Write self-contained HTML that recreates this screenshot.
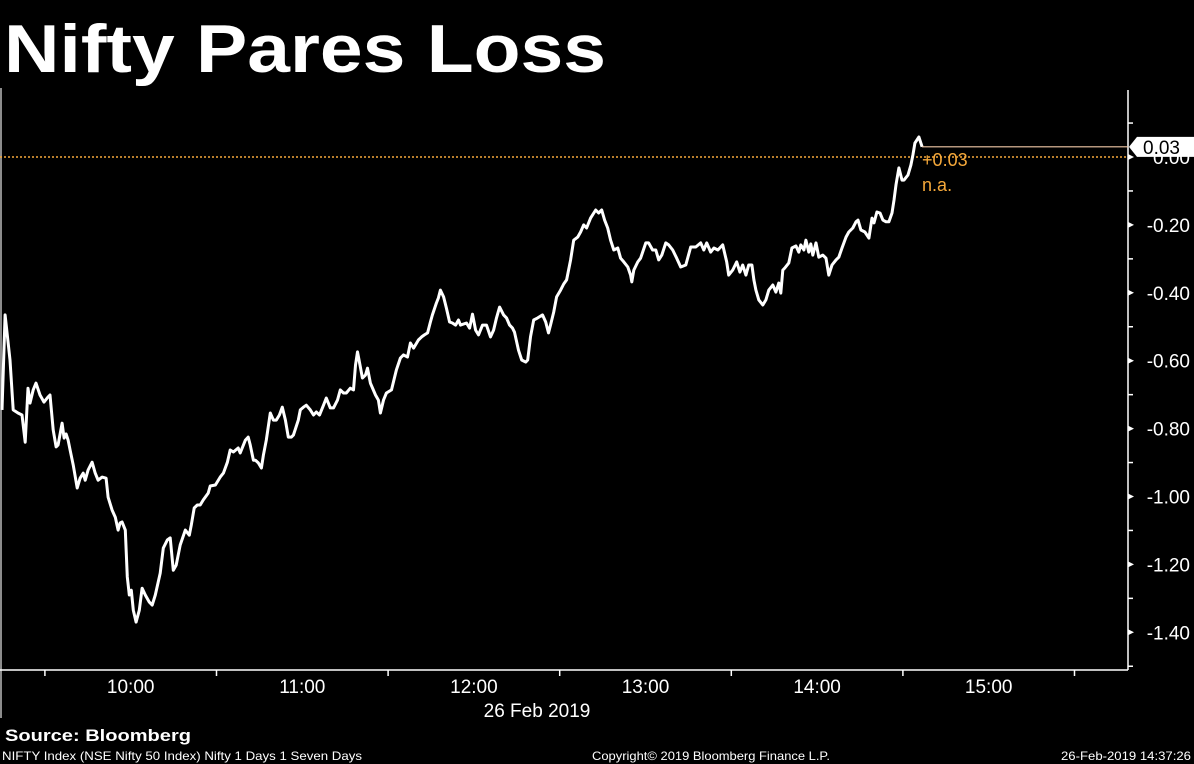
<!DOCTYPE html>
<html><head><meta charset="utf-8">
<style>
html,body{margin:0;padding:0;background:#000;}
svg{display:block;}
text{font-family:"Liberation Sans",sans-serif;}
</style></head>
<body>
<svg id="chart" width="1194" height="764" viewBox="0 0 1194 764" xmlns="http://www.w3.org/2000/svg">
<rect x="0" y="0" width="1194" height="764" fill="#000"/>
<text x="4" y="72" fill="#fff" font-size="68" font-weight="bold" textLength="602" lengthAdjust="spacingAndGlyphs">Nifty Pares Loss</text>
<line x1="1" y1="88" x2="1" y2="718" stroke="#bbb" stroke-width="1.5"/>
<line x1="0" y1="670" x2="1128" y2="670" stroke="#fff" stroke-width="1.5"/>
<line x1="1128" y1="90" x2="1128" y2="670" stroke="#fff" stroke-width="1.5"/>
<g id="yticks"></g>
<g id="xticks"></g>
<line id="zeroLine" x1="0" x2="1128" stroke="#f5a83a" stroke-width="1.5" stroke-dasharray="2,2"/>
<path id="series" fill="none" stroke="#fff" stroke-width="3" stroke-linejoin="round"/>
<g id="lastMarker"></g>
<text x="537" y="717" fill="#fff" font-size="19" text-anchor="middle">26 Feb 2019</text>
<text x="5" y="741" fill="#fff" font-size="17" font-weight="bold" textLength="186" lengthAdjust="spacingAndGlyphs">Source: Bloomberg</text>
<text x="2" y="760" fill="#fff" font-size="12" textLength="360" lengthAdjust="spacingAndGlyphs">NIFTY Index (NSE Nifty 50 Index) Nifty 1 Days 1 Seven Days</text>
<text x="592" y="760" fill="#fff" font-size="12" textLength="238" lengthAdjust="spacingAndGlyphs">Copyright© 2019 Bloomberg Finance L.P.</text>
<text x="1191" y="760" fill="#fff" font-size="12" text-anchor="end" textLength="130" lengthAdjust="spacingAndGlyphs">26-Feb-2019 14:37:26</text>
</svg>
<script>
// minutes since 09:15
var minutes = [0,1.1,2.8,3.9,5.6,7,8.1,9.1,9.8,10.9,11.9,13.3,14.7,16.1,16.8,17.9,18.9,19.6,21,21.7,22.4,23.1,23.8,24.9,26.3,27.3,28.4,29.1,30.1,31.5,32.6,33.6,35,36.4,37.1,38.5,39.6,40.6,41.3,42,43.1,43.8,44.5,45.2,45.9,46.9,48,49,50.1,51.5,52.5,53.6,55.3,56.4,57.8,58.8,59.9,60.9,62.3,64.1,65.5,66.2,67.2,68.3,69.3,70.4,72.1,72.8,74.6,76.3,77.4,78.8,79.8,80.9,82.6,
83.3,85.1,86.1,86.8,87.9,88.6,89.6,90.7,91.4,92.4,93.8,94.9,95.9,97,98,99.1,100.1,101.2,101.9,103.6,104.3,105.4,106.4,107.8,108.9,109.9,111,112.4,113.4,114.8,115.9,117.3,118.3,119.4,120.4,121.8,122.9,123.6,124.3,125.3,126,127.1,127.8,128.8,130.6,131.6,132.3,133.4,134.4,136.2,137.2,137.9,139.3,140.4,141.8,142.8,143.9,145.6,146.7,147.7,148.8,149.8,150.5,151.9,152.6,153.3,154.4,155.4,156.5,157.5,158.6,159.6,160.3,
162.4,163.5,164.5,165.6,166.6,168,169.4,170.8,171.9,172.9,174,175.4,176.4,177.5,178.5,179.2,180.6,181.7,183.1,183.8,184.8,185.9,187.3,189,190.1,191.1,191.8,192.9,193.9,195.3,196.4,197.4,198.8,199.9,201.3,202.3,203.4,204.4,205.8,207.6,208.6,209.7,210.7,211.8,212.8,213.9,215.3,216.3,217.4,218.8,219.8,220.2,220.9,222.3,223.3,225.1,226.1,227.5,228.6,229.6,230.7,232.1,233.1,234.5,235.9,237.3,239.1,240.8,242.6,244.3,
245.4,246.4,247.8,248.9,250.3,252,253.4,254.1,255.5,256.9,258,259,260.1,261.1,262.2,262.9,263.6,264.6,266,267.1,268.1,269.5,270.6,271.6,272.3,273,273.7,275.1,276.2,277.6,278.6,279.3,280.4,281.1,282.1,282.8,283.5,284.6,285.6,287,288.1,289.1,290.2,291.6,292.6,293.7,295.1,296.1,297.5,298.6,299.3,300.3,301.7,303.1,304.2,304.9,305.9,307,308,309.1,310.1,311.2,311.9,312.6,313.6,314.7,315.4,316.8,317.8,318.5,319.2,320.6,321.7];
var changePct = [-0.745,-0.465,-0.598,-0.745,-0.754,-0.760,-0.840,-0.681,-0.725,-0.686,-0.666,-0.701,-0.722,-0.707,-0.701,-0.804,-0.854,-0.848,-0.784,-0.828,-0.816,-0.834,-0.863,-0.907,-0.975,-0.946,-0.931,-0.952,-0.922,-0.899,-0.931,-0.952,-0.943,-0.946,-1.002,-1.040,-1.061,-1.099,-1.078,-1.075,-1.099,-1.237,-1.290,-1.276,-1.335,-1.370,-1.335,-1.270,-1.290,-1.311,-1.320,-1.290,-1.226,-1.152,-1.128,-1.122,-1.217,-1.202,-1.143,-1.099,-1.114,-1.084,-1.034,-1.025,-1.025,-1.010,-0.990,-0.969,-0.966,-0.943,-0.931,-0.899,-0.863,-0.869,-0.857,
-0.872,-0.834,-0.825,-0.848,-0.893,-0.893,-0.901,-0.916,-0.878,-0.834,-0.754,-0.775,-0.775,-0.760,-0.737,-0.775,-0.825,-0.825,-0.819,-0.775,-0.745,-0.737,-0.731,-0.745,-0.760,-0.751,-0.760,-0.731,-0.710,-0.739,-0.739,-0.716,-0.686,-0.695,-0.695,-0.681,-0.686,-0.613,-0.574,-0.619,-0.651,-0.642,-0.622,-0.666,-0.701,-0.716,-0.754,-0.716,-0.695,-0.686,-0.651,-0.627,-0.592,-0.583,-0.589,-0.548,-0.563,-0.539,-0.530,-0.524,-0.518,-0.486,-0.465,-0.430,-0.415,-0.392,-0.412,-0.445,-0.486,-0.489,-0.495,-0.480,-0.495,
-0.489,-0.504,-0.463,-0.510,-0.524,-0.495,-0.495,-0.530,-0.510,-0.474,-0.442,-0.465,-0.474,-0.495,-0.504,-0.516,-0.569,-0.598,-0.604,-0.598,-0.530,-0.480,-0.474,-0.465,-0.486,-0.518,-0.495,-0.457,-0.412,-0.392,-0.374,-0.362,-0.303,-0.245,-0.236,-0.221,-0.200,-0.209,-0.180,-0.156,-0.165,-0.156,-0.186,-0.209,-0.245,-0.274,-0.268,-0.298,-0.309,-0.324,-0.348,-0.368,-0.333,-0.309,-0.298,-0.253,-0.253,-0.274,-0.274,-0.303,-0.289,-0.253,-0.259,-0.274,-0.298,-0.324,-0.318,-0.265,-0.265,-0.253,
-0.274,-0.253,-0.280,-0.268,-0.274,-0.259,-0.309,-0.348,-0.333,-0.309,-0.339,-0.318,-0.348,-0.318,-0.318,-0.362,-0.392,-0.421,-0.436,-0.421,-0.392,-0.377,-0.398,-0.371,-0.401,-0.333,-0.327,-0.312,-0.268,-0.262,-0.280,-0.259,-0.274,-0.245,-0.280,-0.256,-0.289,-0.253,-0.295,-0.289,-0.298,-0.348,-0.318,-0.303,-0.295,-0.268,-0.236,-0.221,-0.209,-0.191,-0.186,-0.215,-0.221,-0.239,-0.180,-0.194,-0.162,-0.165,-0.186,-0.191,-0.191,-0.165,-0.127,-0.082,-0.032,-0.068,-0.068,-0.053,-0.024,0.006,0.041,0.059,0.030];
var yTickValues = [0,-0.2,-0.4,-0.6,-0.8,-1.0,-1.2,-1.4];
var yTickLabels = ["0.00","-0.20","-0.40","-0.60","-0.80","-1.00","-1.20","-1.40"];
var yMinorValues = [0.1,-0.1,-0.3,-0.5,-0.7,-0.9,-1.1,-1.3,-1.5];
var xHourMinutes = [45,105,165,225,285,345];
var xHourLabels = ["10:00","11:00","12:00","13:00","14:00","15:00"];
var xHalfMinutes = [15,75,135,195,255,315,375];
var lastValueLabel = "0.03";
var changeLabel = "+0.03";

var NS = "http://www.w3.org/2000/svg";
function xs(m){ return 2 + m * 2.86; }
function ys(v){ return 157 - v * 339.5; }
function mk(tag, attrs, parent){
  var e = document.createElementNS(NS, tag);
  for (var k in attrs) e.setAttribute(k, attrs[k]);
  parent.appendChild(e); return e;
}
var yt = document.getElementById('yticks');
yTickValues.forEach(function(v,i){
  var y = ys(v);
  var p = mk('path', {d:'M1128,'+(y-3)+' L1134,'+y+' L1128,'+(y+3)+' Z', fill:'#fff'}, yt);
  
  
  var t = mk('text', {x:1190, y:y+7, fill:'#fff', 'font-size':19, 'text-anchor':'end'}, yt);
  t.textContent = yTickLabels[i];
  
  
});
yMinorValues.forEach(function(v){
  var y = ys(v);
  var l = mk('line', {x1:1128, x2:1133, y1:y, y2:y, stroke:'#fff', 'stroke-width':1.5}, yt);
  
  
});
var xt = document.getElementById('xticks');
xHalfMinutes.forEach(function(m){
  var x = xs(m);
  var l = mk('line', {x1:x, x2:x, y1:670, y2:676, stroke:'#fff', 'stroke-width':1.5}, xt);
  
  
});
xHourMinutes.forEach(function(m,i){
  var t = mk('text', {x:xs(m), y:693, fill:'#fff', 'font-size':19, 'text-anchor':'middle'}, xt);
  t.textContent = xHourLabels[i];
  
  
});
var z = document.getElementById('zeroLine');
z.setAttribute('y1', ys(0)); z.setAttribute('y2', ys(0));
var d = '';
for (var i = 0; i < minutes.length; i++) {
  d += (i ? ' L' : 'M') + xs(minutes[i]).toFixed(1) + ',' + ys(changePct[i]).toFixed(1);
}
document.getElementById('series').setAttribute('d', d);
var lm = document.getElementById('lastMarker');
var lastV = changePct[changePct.length-1];
var lastX = xs(minutes[minutes.length-1]);
var ly = ys(lastV);
var ll = mk('line', {x1:lastX, x2:1128, y1:ly, y2:ly, stroke:'#f2c9a8', 'stroke-width':1.2}, lm);


var box = mk('path', {d:'M1129,'+ly+' L1137,'+(ly-10)+' L1194,'+(ly-10)+' L1194,'+(ly+10)+' L1137,'+(ly+10)+' Z', fill:'#fff'}, lm);


var bt = mk('text', {x:1180, y:ly+7, fill:'#000', 'font-size':19, 'text-anchor':'end'}, lm);
bt.textContent = lastValueLabel;


var ct = mk('text', {x:lastX, y:ly+19, fill:'#f5a83a', 'font-size':18}, lm);
ct.textContent = changeLabel;


var na = mk('text', {x:lastX, y:ly+44, fill:'#f5a83a', 'font-size':18}, lm);
na.textContent = 'n.a.';


</script>
</body></html>
